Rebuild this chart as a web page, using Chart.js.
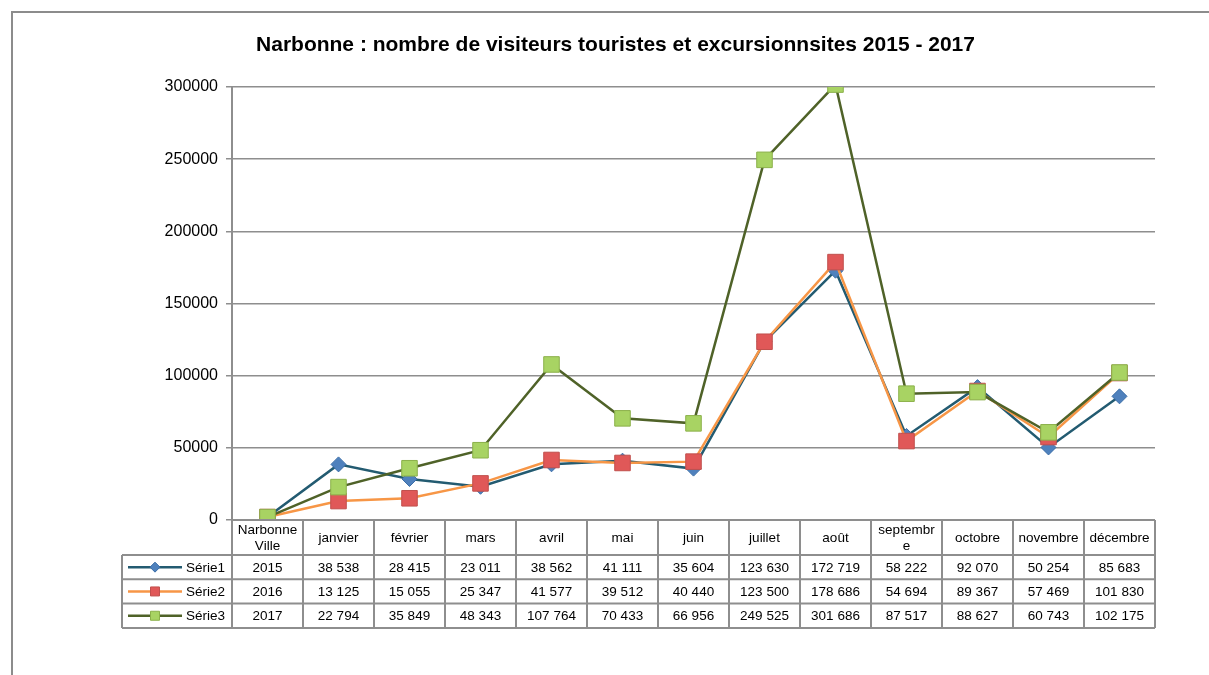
<!DOCTYPE html>
<html><head><meta charset="utf-8">
<script src="https://cdn.jsdelivr.net/npm/chart.js@4"></script>
<style>html,body{margin:0;padding:0;background:#fff}canvas{display:block}</style>
</head><body>
<canvas id="c" width="1209" height="675"></canvas>
<script>
const categories = [["Narbonne","Ville"],"janvier","février","mars","avril","mai","juin","juillet","août",["septembr","e"],"octobre","novembre","décembre"];
const serie1 = [2015,38538,28415,23011,38562,41111,35604,123630,172719,58222,92070,50254,85683];
const serie2 = [2016,13125,15055,25347,41577,39512,40440,123500,178686,54694,89367,57469,101830];
const serie3 = [2017,22794,35849,48343,107764,70433,66956,249525,301686,87517,88627,60743,102175];
const seriesNames = ["Série1","Série2","Série3"];
const yTicks = [0,50000,100000,150000,200000,250000,300000];
const titleText = "Narbonne : nombre de visiteurs touristes et excursionnsites 2015 - 2017";

const FONT = "'Liberation Sans', Arial, sans-serif";
const GRID = '#8e8e8e';
const styles = [
  {line:'#235B71', fill:'#4F81BD', border:'#3B6EA8', shape:'rectRot', r:7.5, lr:5},
  {line:'#F79646', fill:'#E05858', border:'#C0504D', shape:'rect', r:11, lr:7},
  {line:'#4F6228', fill:'#A8D363', border:'#8BB04A', shape:'rect', r:11, lr:7}
];
const seriesData = [serie1, serie2, serie3];

function fmt(v){
  if (v < 10000) return String(v);
  return String(v).replace(/\B(?=(\d{3})+(?!\d))/g, ' ');
}

const framePlugin = {
  id:'frame',
  beforeDraw(chart){
    const ctx = chart.ctx;
    ctx.save();
    ctx.fillStyle = '#fff';
    ctx.fillRect(0,0,chart.width,chart.height);
    ctx.strokeStyle = '#8c8c8c';
    ctx.lineWidth = 2;
    ctx.strokeRect(12, 12, chart.width + 20, chart.height + 20);
    ctx.restore();
  }
};

const tablePlugin = {
  id:'table',
  afterDraw(chart){
    const ctx = chart.ctx, xs = chart.scales.x, ca = chart.chartArea;
    const n = categories.length;
    const w = (ca.right - ca.left) / n;
    const top = ca.bottom, hdrB = top + 35, rowH = 24.3;
    const bottom = hdrB + rowH * 3;
    const legL = 122;
    ctx.save();
    ctx.strokeStyle = GRID;
    ctx.lineWidth = 2;
    ctx.beginPath();
    ctx.moveTo(ca.left, top); ctx.lineTo(ca.right, top);
    for (let r = 0; r <= 3; r++) {
      const y = hdrB + r * rowH;
      ctx.moveTo(legL, y); ctx.lineTo(ca.right, y);
    }
    ctx.moveTo(legL, hdrB); ctx.lineTo(legL, bottom);
    for (let i = 0; i <= n; i++) {
      const bx = (i < n ? xs.getPixelForValue(i) - w/2 : xs.getPixelForValue(n-1) + w/2);
      ctx.moveTo(bx, top); ctx.lineTo(bx, bottom);
    }
    ctx.stroke();

    ctx.fillStyle = '#000';
    ctx.font = '13.5px ' + FONT;
    ctx.textAlign = 'center';
    ctx.textBaseline = 'middle';
    for (let i = 0; i < n; i++) {
      const cx = xs.getPixelForValue(i);
      const lab = categories[i];
      if (Array.isArray(lab)) {
        ctx.fillText(lab[0], cx, top + 10);
        ctx.fillText(lab[1], cx, top + 26);
      } else {
        ctx.fillText(lab, cx, top + 18);
      }
      for (let s = 0; s < 3; s++) {
        ctx.fillText(fmt(seriesData[s][i]), cx, hdrB + s * rowH + rowH/2 + 1);
      }
    }
    for (let s = 0; s < 3; s++) {
      const cy = hdrB + s * rowH + rowH/2;
      const st = styles[s];
      ctx.strokeStyle = st.line;
      ctx.lineWidth = 2.5;
      ctx.beginPath(); ctx.moveTo(128, cy); ctx.lineTo(182, cy); ctx.stroke();
      ctx.fillStyle = st.fill; ctx.strokeStyle = st.border; ctx.lineWidth = 1;
      ctx.beginPath();
      if (st.shape === 'rectRot') {
        ctx.moveTo(155, cy - st.lr); ctx.lineTo(155 + st.lr, cy); ctx.lineTo(155, cy + st.lr); ctx.lineTo(155 - st.lr, cy); ctx.closePath();
      } else {
        ctx.rect(155 - 4.5, cy - 4.5, 9, 9);
      }
      ctx.fill(); ctx.stroke();
      ctx.fillStyle = '#000';
      ctx.textAlign = 'left';
      ctx.fillText(seriesNames[s], 186, cy + 1);
    }
    ctx.restore();
  }
};

new Chart(document.getElementById('c'), {
  type:'line',
  data:{
    labels: categories,
    datasets: seriesData.map((d, s) => ({
      label: seriesNames[s],
      data: d,
      borderColor: styles[s].line,
      borderWidth: 2.5,
      pointStyle: styles[s].shape,
      pointRadius: styles[s].r,
      pointBackgroundColor: styles[s].fill,
      pointBorderColor: styles[s].border,
      pointBorderWidth: 1,
      tension: 0,
      fill: false,
      order: 3 - s
    }))
  },
  options:{
    responsive:false,
    animation:false,
    layout:{padding:{left:76, right:54, top:0, bottom:155}},
    plugins:{
      legend:{display:false},
      tooltip:{enabled:false},
      title:{display:true, text:titleText, color:'#000',
        font:{family:FONT, size:21, weight:'bold'},
        padding:{top:32.4, bottom:29.4}}
    },
    scales:{
      x:{display:false, offset:true},
      y:{
        min:0, max:300000,
        afterFit(scale){ scale.width = 156; },
        afterBuildTicks(scale){ scale.ticks = yTicks.map(v => ({value:v})); },
        grid:{color:GRID, lineWidth:1.5, tickLength:6, drawTicks:true},
        border:{color:GRID, width:2},
        ticks:{color:'#000', font:{family:FONT, size:16}, padding:8, callback:(v) => String(v)}
      }
    }
  },
  plugins:[framePlugin, tablePlugin]
});
</script>
</body></html>
